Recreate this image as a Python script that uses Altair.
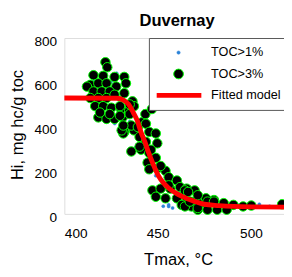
import altair as alt
import pandas as pd

series_names = ["TOC>1%", "TOC>3%", "Fitted model"]

# TOC>3% samples (black dots, green outline)
toc3_tmax = [422, 423, 415.6, 420.8, 426.9, 432.1, 413.9, 418.2, 422.6, 427.8, 433, 412.1,
             415.6, 420, 424.3, 413.9, 418.2, 422.6, 426.9, 432.1, 436.5, 437.3, 416.5, 420.8,
             425.2, 430.4, 434.7, 418.2, 422.6, 426.9, 431.2, 419.1, 424.3, 432.1, 437.3, 441.7,
             443.4, 446.9, 429.8, 435, 429.8, 435, 431.6, 435.9, 439.4, 443.7, 445.5, 449,
             440.3, 443.7, 449.8, 435.9, 441.1, 445.5, 444.6, 449, 445.5, 450.7, 454.2, 455.9,
             460.3, 447.2, 451.6, 456.8, 462, 465.5, 469.8, 449, 454.2, 460.3, 465.5, 470.7,
             462.9, 468.1, 473.3, 430.7, 431.6, 451.6, 455.9, 464.6, 475.9, 480.2, 485.4, 490.6,
             495.8, 464.6, 471.5, 440.3, 446.4, 466.3, 471.5, 476.7, 480.2, 500.2, 471.5, 476.7,
             481.9, 487, 516.7, 467.2]
toc3_hi = [690, 667, 631, 628, 623, 623, 587, 594, 594, 579, 594, 579,
           557, 557, 557, 527, 527, 527, 542, 549, 512, 490, 490, 490,
           483, 476, 469, 439, 432, 432, 439, 461, 454, 373, 380, 417,
           454, 477, 490, 498, 446, 454, 366, 402, 395, 410, 373, 366,
           350, 328, 321, 284, 292, 277, 233, 255, 203, 211, 196, 167,
           152, 107, 115, 115, 122, 115, 107, 78, 71, 71, 56, 63,
           41, 34, 49, 380, 402, 218, 130, 107, 71, 63, 49, 41,
           34, 34, 19, 306, 292, 100, 85, 56, 56, 38, 27, 19,
           19, 19, 44, 56]

# TOC>1% samples (small blue dots)
toc1_tmax = [447.2, 446.4, 455.9, 449, 455.9, 504.5, 427, 453, 458, 493,
             420, 425, 430, 418, 435, 440, 445, 450, 455, 460,
             465, 470, 480, 490, 500, 510, 416, 428, 438, 462]
toc1_hi = [469, 477, 41, 174, 34, 44, 411, 35, 27, 40,
           550, 600, 500, 480, 420, 350, 250, 180, 120, 80,
           60, 45, 40, 35, 30, 35, 610, 640, 300, 95]

# Fitted model
fit_tmax = [400, 428.1, 431.8, 434.4, 437, 439.1, 441.1, 443.2, 444.8, 447.4, 450.5,
            453.1, 455.7, 459.4, 463, 469.8, 475, 482.8, 490.6, 501, 518.7]
fit_hi = [527, 526, 517, 499, 460, 424, 371, 327, 287, 230, 172,
          141, 119, 97, 80, 57, 44, 38, 34, 32, 31]

df1 = pd.DataFrame({"Tmax": toc1_tmax, "HI": toc1_hi, "series": series_names[0]})
df3 = pd.DataFrame({"Tmax": toc3_tmax, "HI": toc3_hi, "series": series_names[1]})
dff = pd.DataFrame({"Tmax": fit_tmax, "HI": fit_hi, "series": series_names[2]})

FONT = "Liberation Sans"

x = alt.X("Tmax:Q",
          scale=alt.Scale(domain=[400, 518.75], nice=False, zero=False),
          axis=alt.Axis(values=[400, 450, 500], title="Tmax, °C", grid=False, domain=False,
                        ticks=False, labelFont=FONT, labelFontSize=14, labelColor="black",
                        labelPadding=13, titleFont=FONT, titleFontSize=17,
                        titleFontWeight="normal", titleColor="black", titleX=117, titleY=52,
                        titleBaseline="alphabetic", titleAlign="center"))
y = alt.Y("HI:Q",
          scale=alt.Scale(domain=[0, 800], nice=False),
          axis=alt.Axis(values=[0, 200, 400, 600, 800], title="Hi, mg hc/g toc", grid=False,
                        domain=False, ticks=False, labelFont=FONT, labelFontSize=14,
                        labelColor="black", labelPadding=8, labelOffset=4, titleFont=FONT,
                        titleFontSize=17, titleFontWeight="normal", titleColor="black",
                        titleX=-48, titleY=89, titleAngle=270, titleAlign="center",
                        titleBaseline="middle"))

legend = alt.Legend(
    title=None, orient="none", legendX=87, legendY=0, padding=8,
    strokeColor="#555555", fillColor="white", labelFont=FONT, labelFontSize=13,
    labelColor="black", labelOffset=27, symbolOffset=16, clipHeight=14, rowPadding=8,
    symbolOpacity=1,
    symbolSize=alt.ExprRef("datum.value == 'Fitted model' ? 2200 : (datum.value == 'TOC>3%' ? 100 : 12)"),
    zindex=1,
)

stroke_enc = alt.Stroke("series:N", scale=alt.Scale(domain=series_names,
                        range=["#2b83d8", "#00ff00", "#ff0000"]), legend=legend)
fill_enc = alt.Fill("series:N", scale=alt.Scale(domain=series_names,
                    range=["#2b83d8", "#000000", "transparent"]), legend=legend)
shape_enc = alt.Shape("series:N", scale=alt.Scale(domain=series_names,
                      range=["circle", "circle", "stroke"]), legend=legend)
sw_enc = alt.StrokeWidth("series:N", scale=alt.Scale(type="ordinal", domain=series_names,
                         range=[0.5, 1, 5]), legend=legend)

p1 = alt.Chart(df1).mark_point(filled=True, size=10, opacity=1).encode(
    x=x, y=y, fill=fill_enc, stroke=stroke_enc, shape=shape_enc, strokeWidth=sw_enc)
p3 = alt.Chart(df3).mark_point(filled=True, size=95, opacity=1).encode(
    x=x, y=y, fill=fill_enc, stroke=stroke_enc, shape=shape_enc, strokeWidth=sw_enc)
line = alt.Chart(dff).mark_line(interpolate="monotone").encode(
    x=x, y=y, stroke=stroke_enc, strokeWidth=sw_enc)

chart = alt.layer(p1, p3, line).properties(
    width=228, height=181,
    title=alt.TitleParams("Duvernay", font=FONT, fontSize=17, fontWeight="bold",
                          color="black", anchor="middle", offset=5, dx=2),
    autosize=alt.AutoSizeParams(type="none"),
    padding={"left": 58, "top": 27, "right": -2, "bottom": 60},
).configure_view(stroke="#666666", strokeWidth=1).configure(background="white")

chart.save("out.html", embed_options={"renderer": "svg", "actions": False})
